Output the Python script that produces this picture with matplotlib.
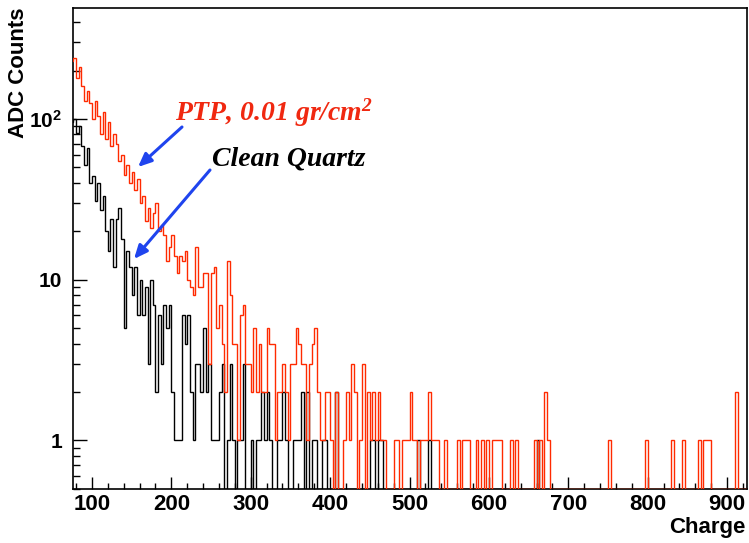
import numpy as np
import matplotlib
matplotlib.use("Agg")
import matplotlib.pyplot as plt
from matplotlib.ticker import MultipleLocator, LogLocator, FuncFormatter, NullFormatter, FixedLocator

# ---- data: histogram counts, 300 bins over 0..1000 (bin width 10/3), starting at bin 22 ----
first_bin = 22
bin_width = 10.0 / 3.0

ptp_counts = [
    230, 240, 180, 210, 160, 130, 150, 125, 100, 130,
    105, 80, 110, 75, 95, 68, 80, 70, 55, 60,
    45, 52, 40, 47, 36, 42, 30, 33, 23, 28,
    21, 26, 30, 20, 22, 19, 13, 16, 19, 14,
    11, 14, 13, 15, 10, 9, 8, 16, 9, 9,
    11, 11, 3, 11, 12, 5, 7, 4, 2, 13,
    8, 4, 4, 1, 6, 7, 3, 3, 2, 5,
    2, 4, 2, 2, 5, 4, 4, 1, 2, 2,
    3, 2, 1, 3, 3, 5, 4, 3, 3, 1,
    3, 4, 5, 2, 1, 1, 2, 2, 1, 0,
    2, 0, 0, 1, 2, 1, 3, 2, 0, 1,
    3, 0, 2, 1, 2, 1, 2, 1, 1, 0,
    0, 0, 1, 1, 0, 1, 1, 1, 2, 1,
    1, 0, 1, 1, 1, 2, 1, 1, 1, 0,
    0, 1, 0, 0, 0, 0, 1, 0, 1, 1,
    1, 0, 0, 1, 0, 1, 0, 1, 0, 1,
    1, 1, 1, 0, 0, 0, 1, 0, 1, 0,
    0, 0, 0, 0, 0, 1, 0, 1, 0, 2,
    1, 0, 0, 0, 0, 0, 0, 0, 0, 0,
    0, 0, 0, 0, 0, 0, 0, 0, 0, 0,
    0, 0, 0, 1, 0, 0, 0, 0, 0, 0,
    0, 0, 0, 0, 0, 0, 0, 1, 0, 0,
    0, 0, 0, 0, 0, 0, 0, 1, 0, 0,
    0, 1, 0, 0, 0, 0, 0, 1, 0, 1,
    1, 1, 0, 0, 0, 0, 0, 0, 0, 0,
    0, 2, 0, 0, 0, 0,
]

quartz_counts = [
    95, 100, 82, 90, 68, 52, 66, 40, 44, 31,
    40, 27, 33, 20, 15, 24, 12, 24, 28, 18,
    5, 15, 12, 8, 12, 6, 10, 6, 9, 3,
    10, 7, 2, 6, 3, 7, 5, 7, 2, 1,
    1, 1, 6, 4, 6, 2, 1, 3, 3, 2,
    5, 2, 3, 1, 1, 1, 2, 3, 0, 1,
    3, 1, 0, 1, 1, 3, 0, 0, 1, 0,
    1, 1, 2, 1, 2, 1, 0, 0, 1, 1,
    2, 1, 0, 0, 1, 1, 1, 2, 0, 2,
    0, 1, 1, 0, 0, 1, 1, 0, 0, 0,
    2, 0, 0, 0, 0, 0, 0, 0, 0, 0,
    0, 0, 0, 1, 1, 0, 1, 1, 0, 0,
    0, 0, 0, 0, 0, 0, 0, 0, 0, 0,
    0, 1, 0, 0, 0, 1, 0, 0, 0, 0,
    0, 0, 0, 0, 0, 0, 0, 0, 0, 0,
    0, 0, 0, 0, 0, 0, 0, 0, 0, 0,
    0, 0, 0, 0, 0, 0, 0, 0, 0, 0,
    0, 0, 0, 0, 0, 0, 1, 0,
]

x_ticks = [100, 200, 300, 400, 500, 600, 700, 800, 900]
y_ticks = [1, 10, 100]
y_tick_labels = ["1", "10", "$10^{2}$"]
ptp_label = "PTP, 0.01 gr/cm$^{2}$"
quartz_label = "Clean Quartz"
x_title = "Charge"
y_title = "ADC Counts"

XMIN, XMAX = 76.5, 924.5
YMIN, YMAX = 0.5, 490

# ---- style ----
plt.rcParams["font.family"] = ["Liberation Sans", "DejaVu Sans"]
plt.rcParams["font.weight"] = "bold"
plt.rcParams["mathtext.default"] = "regular"

W, H = 749, 543
fig = plt.figure(figsize=(W / 100, H / 100), dpi=100)
L, R, T, B = 73.3, 746.5, 8.0, 488.7
ax = fig.add_axes([L / W, 1 - B / H, (R - L) / W, (B - T) / H])
ax.set_yscale("log")


def edges_for(counts):
    return (first_bin + np.arange(len(counts) + 1)) * bin_width


def clip_zero(counts):
    c = np.asarray(counts, dtype=float)
    return np.where(c > 0, c, YMIN)


ax.stairs(clip_zero(quartz_counts), edges_for(quartz_counts), baseline=None,
          color="black", lw=1.0, zorder=2)
ax.stairs(clip_zero(ptp_counts), edges_for(ptp_counts), baseline=None,
          color="#ff2a00", lw=1.0, zorder=3)

ax.set_xlim(XMIN, XMAX)
ax.set_ylim(YMIN, YMAX)

ax.xaxis.set_major_locator(FixedLocator(x_ticks))
ax.xaxis.set_minor_locator(MultipleLocator(20))
ax.yaxis.set_major_locator(FixedLocator(y_ticks))
ax.yaxis.set_minor_locator(LogLocator(base=10, subs=np.arange(2, 10)))
ax.yaxis.set_minor_formatter(NullFormatter())
lab = dict(zip(y_ticks, y_tick_labels))
ax.yaxis.set_major_formatter(FuncFormatter(lambda v, p: lab.get(int(round(v)), "")))

ax.tick_params(axis="x", which="major", direction="in", length=9, width=1,
               labelsize=16, pad=4, top=False)
ax.tick_params(axis="x", which="minor", direction="in", length=4.5, width=1, top=False)
ax.tick_params(axis="y", which="major", direction="in", length=10, width=1,
               labelsize=15, pad=8, right=False)
ax.tick_params(axis="y", which="minor", direction="in", length=5, width=1, right=False)
for s in ax.spines.values():
    s.set_linewidth(1.2)
    s.set_zorder(2.5)

# ---- annotations ----
red = "#f02810"
blue = "#1f44ee"
tf = dict(family=["Liberation Serif", "DejaVu Serif"], weight="bold", style="italic", size=20)


def fx(px):
    return (px - L) / (R - L)


def fy(py):
    return (B - py) / (B - T)


ax.text(fx(175), fy(121), ptp_label, color=red, transform=ax.transAxes,
        ha="left", va="baseline", **tf)
ax.text(fx(212), fy(165), quartz_label, color="black", transform=ax.transAxes,
        ha="left", va="baseline", **tf)

arrow = dict(arrowstyle="-|>,head_length=0.8,head_width=0.35", color=blue, lw=2.2,
             shrinkA=0, shrinkB=0)
ax.annotate("", xy=(fx(138), fy(167)), xytext=(fx(182), fy(127)),
            xycoords="axes fraction", textcoords="axes fraction", arrowprops=arrow)
ax.annotate("", xy=(fx(134), fy(259)), xytext=(fx(210), fy(170)),
            xycoords="axes fraction", textcoords="axes fraction", arrowprops=arrow)

fig.text(745 / W, 1 - 528 / H, x_title, ha="right", va="center", fontsize=16, weight="bold")
fig.text(19 / W, 1 - 8 / H, y_title, ha="center", va="top", rotation=90,
         fontsize=16, weight="bold")

fig.savefig("out.png", dpi=100)
